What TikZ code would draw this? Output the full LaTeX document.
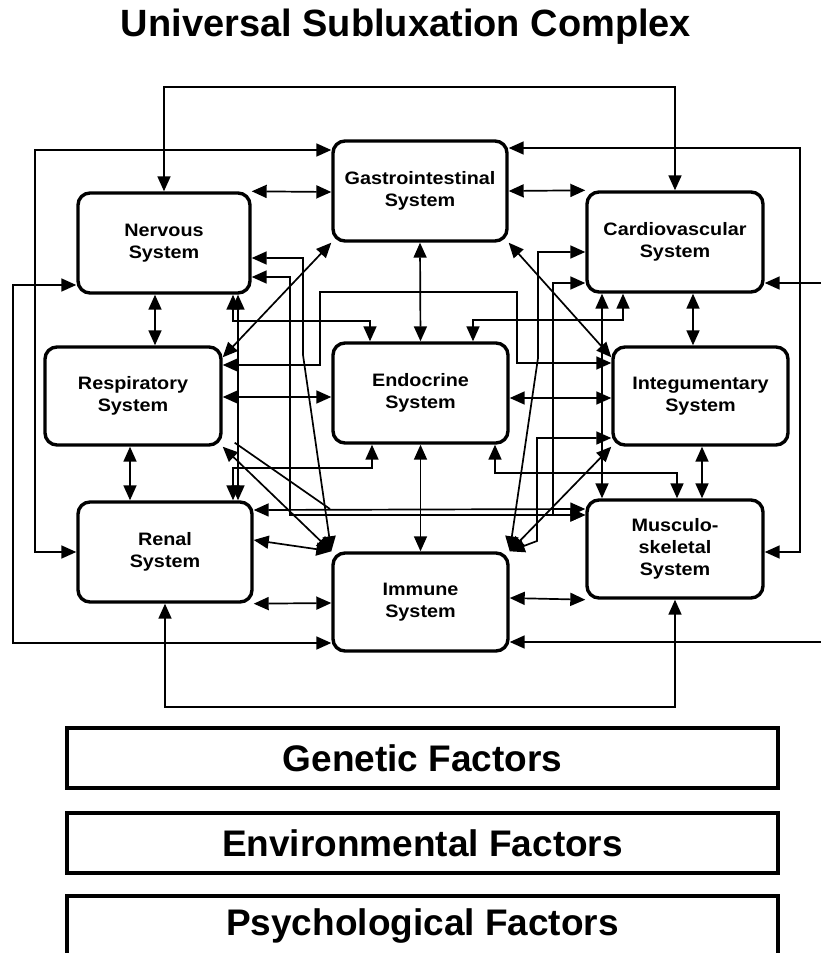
\documentclass[tikz,border=0pt]{standalone}
\usepackage{fontspec}
\setmainfont{Liberation Sans}
\newfontfamily\boxfont[FakeStretch=1.1]{Liberation Sans}
\usetikzlibrary{arrows.meta}
\begin{document}
\begin{tikzpicture}[x=1pt,y=-1pt,
  sysbox/.style={draw, line width=3.4pt, rounded corners=12pt, align=center,
    font=\boxfont\bfseries\fontsize{18}{22}\selectfont, inner sep=2pt},
  link/.style={line width=1.7pt, {Triangle[length=15pt,width=13pt]}-{Triangle[length=15pt,width=13pt]}},
  plainlink/.style={line width=1.7pt},
  factorbox/.style={draw, line width=3.2pt, minimum width=711pt, minimum height=60pt,
    font=\bfseries\fontsize{37}{42}\selectfont},
  titletext/.style={font=\bfseries\fontsize{38}{44}\selectfont}
]
\fill[white] (0,0) rectangle (820,953);
\useasboundingbox (0,0) rectangle (820,953);

\node[titletext] (title) at (406,27) {Universal Subluxation Complex};

% systems
\node[sysbox, minimum width=172pt, minimum height=100pt] (nerv) at (164,243) {Nervous\\System};
\node[sysbox, minimum width=174pt, minimum height=100pt] (gast) at (420,191) {Gastrointestinal\\System};
\node[sysbox, minimum width=176pt, minimum height=100pt] (card) at (675,242) {Cardiovascular\\System};
\node[sysbox, minimum width=176pt, minimum height=98pt] (resp) at (133,396) {Respiratory\\System};
\node[sysbox, minimum width=175pt, minimum height=100pt] (endo) at (420.5,393) {Endocrine\\System};
\node[sysbox, minimum width=175pt, minimum height=98pt] (integ) at (700.5,396) {Integumentary\\System};
\node[sysbox, minimum width=174pt, minimum height=100pt] (renal) at (165,552) {Renal\\System};
\node[sysbox, minimum width=175pt, minimum height=98pt] (immu) at (420.5,602) {Immune\\System};
\node[sysbox, minimum width=176pt, minimum height=98pt] (musc) at (675,549) {Musculo-\\skeletal\\System};

% outer loops
\draw[link] (nerv.north) -- ++(0,-104) -| (card.north);
\draw[link] ([yshift=41pt]gast.west) -| (35,552) -- (renal.west);
\draw[link] ([yshift=-42pt]nerv.west) -| (13,643) -- ([yshift=-41pt]immu.west);
\draw[link] ([yshift=43pt]gast.east) -| (800,552) -- ([yshift=-3pt]musc.east);
\draw[link] ([yshift=-41pt]card.east) -| (826,642) -- ([yshift=-40pt]immu.east);
\draw[link] (renal.south) -- ++(0,103) -| (musc.south);

% vertical neighbours
\draw[link] ([xshift=-9pt]nerv.south) -- ([xshift=22pt]resp.north);
\draw[link] ([xshift=-3pt]resp.south) -- ([xshift=-35pt]renal.north);
\draw[link] ([xshift=18pt]card.south) -- ([xshift=-7.5pt]integ.north);
\draw[link] ([xshift=1.5pt]integ.south) -- ([xshift=27pt]musc.north);
\draw[link] (gast.south) -- (endo.north);
\draw[link] (endo.south) -- (immu.north);

% horizontal neighbours
\draw[link] (nerv.north east) -- ([yshift=-1pt]gast.west);
\draw[link] (gast.east) -- (card.north west);
\draw[link] ([yshift=-1pt]resp.east) -- ([yshift=-4pt]endo.west);
\draw[link] ([yshift=-5pt]endo.east) -- ([yshift=-2pt]integ.west);
\draw[link] (renal.south east) -- ([yshift=-1pt]immu.west);
\draw[link] ([yshift=4pt]immu.east) -- (musc.south west);

% diagonals
\draw[link] (gast.south west) -- ([yshift=-12pt]resp.north east);
\draw[link] (gast.south east) -- ([yshift=-12pt]integ.north west);
\draw[link] (resp.south east) -- (immu.north west);
\draw[link] (integ.south west) -- (immu.north east);

% routed links
\draw[link] ([yshift=-15pt]nerv.east) -| (303,355) -- (immu.north west);
\draw[link] ([yshift=-10pt]card.west) -| (538,358) -- (immu.north east);
\draw[link] ([yshift=-34pt]nerv.east) -| (290,515) -- ([yshift=34pt]musc.west);
\draw[link] ([yshift=42pt]renal.east) -- ([yshift=40pt]musc.west);
\draw[plainlink] ([xshift=12pt,yshift=4pt]resp.south east) -- (330,509);
\draw[link] ([yshift=-41pt]card.west) -| (553,515) -- ([yshift=34pt]musc.west);
\draw[link] ([xshift=69pt]nerv.south) -- ++(0,26) -| ([xshift=-50.5pt]endo.north);
\draw[link] ([xshift=68pt]renal.north) -- ++(0,-32) -| ([xshift=-48.5pt]endo.south);
\draw[link] ([xshift=74pt]nerv.south) -- ([xshift=73pt]renal.north);
\draw[link] ([xshift=-52pt]card.south) -- ++(0,26) -| ([xshift=52.5pt]endo.north);
\draw[link] ([xshift=-73pt]card.south) -- ([xshift=-73pt]musc.north);
\draw[link] ([xshift=74.5pt]endo.south) -- ++(0,28) -| ([xshift=2pt]musc.north);
\draw[link] ([yshift=31pt]resp.east) -| (320,292) -| (517,363) -- ([yshift=33pt]integ.west);
\draw[link] ([yshift=12pt]renal.east) -- (immu.north west);
\draw[link] (immu.north east) -- (537,541) -- (537,438) -- ([yshift=-42pt]integ.west);

% factors
\node[factorbox] (gen) at (422.5,758) {Genetic Factors};
\node[factorbox] (env) at (422.5,843) {Environmental Factors};
\node[factorbox] (psy) at (422.5,926) {Psychological Factors};
\end{tikzpicture}
\end{document}
